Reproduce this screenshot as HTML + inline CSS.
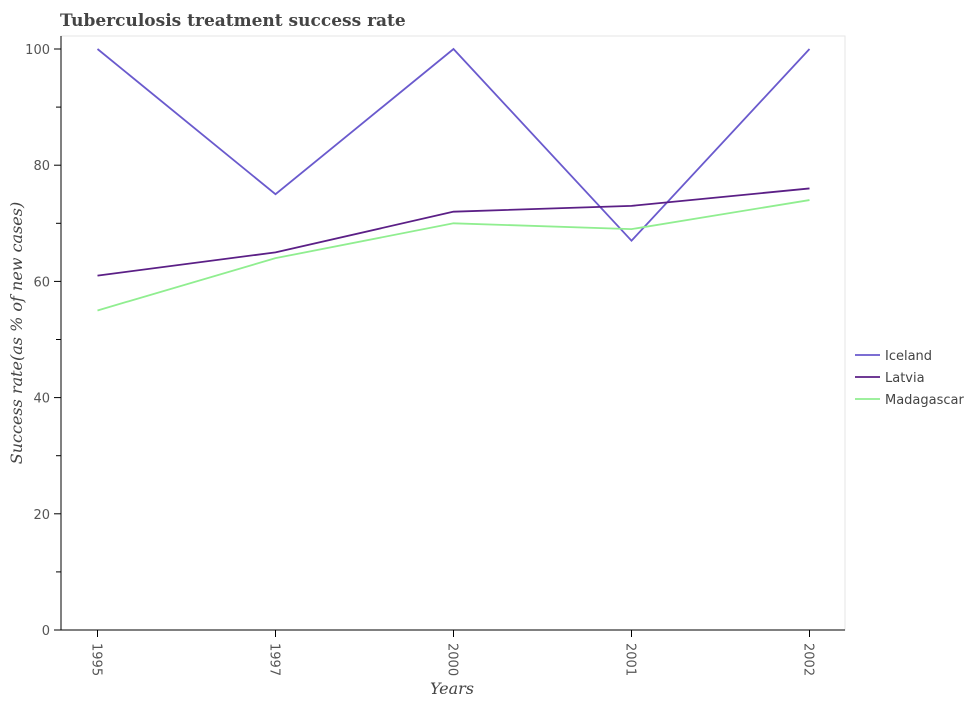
<!DOCTYPE html>
<html><head><style>
body{margin:0;background:#fff;font-family:"DejaVu Sans","Liberation Sans",sans-serif}
</style></head><body>
<svg width="964" height="700" xmlns="http://www.w3.org/2000/svg">
<text x="60" y="26" font-family="DejaVu Serif,Liberation Serif,serif" font-weight="bold" font-size="17" fill="#444">Tuberculosis treatment success rate</text>
<rect x="61" y="36" width="784" height="594" fill="none" stroke="#e6e6e6"/>
<g id="axes"></g>
<g id="lines"></g>
<text x="452" y="694" text-anchor="middle" font-family="DejaVu Serif,Liberation Serif,serif" font-style="italic" font-size="16" fill="#444">Years</text>
<text transform="translate(22,333) rotate(-90)" text-anchor="middle" font-family="DejaVu Serif,Liberation Serif,serif" font-style="italic" font-size="16" fill="#444">Success rate(as % of new cases)</text>
<g id="legend"></g>
</svg>
<script>
const years=["1995","1997","2000","2001","2002"];
const iceland=[100,75,100,67,100];
const latvia=[61,65,72,73,76];
const madagascar=[55,64,70,69,74];
const yTicks=[0,20,40,60,80,100];
const seriesNames=["Iceland","Latvia","Madagascar"];
const NS="http://www.w3.org/2000/svg";
function X(i){return 97.5+i*178;}
function Y(v){return 630-v*5.81;}
function mk(t,a,p){const e=document.createElementNS(NS,t);for(const k in a)e.setAttribute(k,a[k]);p.appendChild(e);return e;}
const ax=document.getElementById('axes');
const yl=mk('line',{x1:61,y1:36,x2:61,y2:630,stroke:'#000','stroke-width':1},ax);


const xl=mk('line',{x1:61,y1:630,x2:845,y2:630,stroke:'#000','stroke-width':1},ax);


for(let v=0;v<=100;v+=10){mk('line',{x1:v%20?56:54,y1:Y(v),x2:61,y2:Y(v),stroke:'#000'},ax);}
yTicks.forEach(v=>{const t=mk('text',{x:50,y:Y(v)+5,'text-anchor':'end','font-size':13,fill:'#555'},ax);t.textContent=v;

});
years.forEach((y,i)=>{mk('line',{x1:X(i),y1:630,x2:X(i),y2:637,stroke:'#000'},ax);
const t=mk('text',{transform:`translate(${X(i)-5},643) rotate(90)`,'font-size':13,fill:'#555'},ax);t.textContent=y;

});
const lg=document.getElementById('lines');
const data=[iceland,latvia,madagascar];
const colors=["#6a5acd","#5b1f86","#90ee90"];
data.forEach((d,s)=>{const p=mk('polyline',{points:d.map((v,i)=>X(i)+','+Y(v)).join(' '),fill:'none',stroke:colors[s],'stroke-width':1.8},lg);

});
const le=document.getElementById('legend');
seriesNames.forEach((n,s)=>{const y=355+s*22;
mk('line',{x1:855,y1:y,x2:880,y2:y,stroke:colors[s],'stroke-width':1.8},le);
const t=mk('text',{x:885,y:y+5,'font-size':13,fill:'#444'},le);t.textContent=n;

});
</script>
</body></html>
